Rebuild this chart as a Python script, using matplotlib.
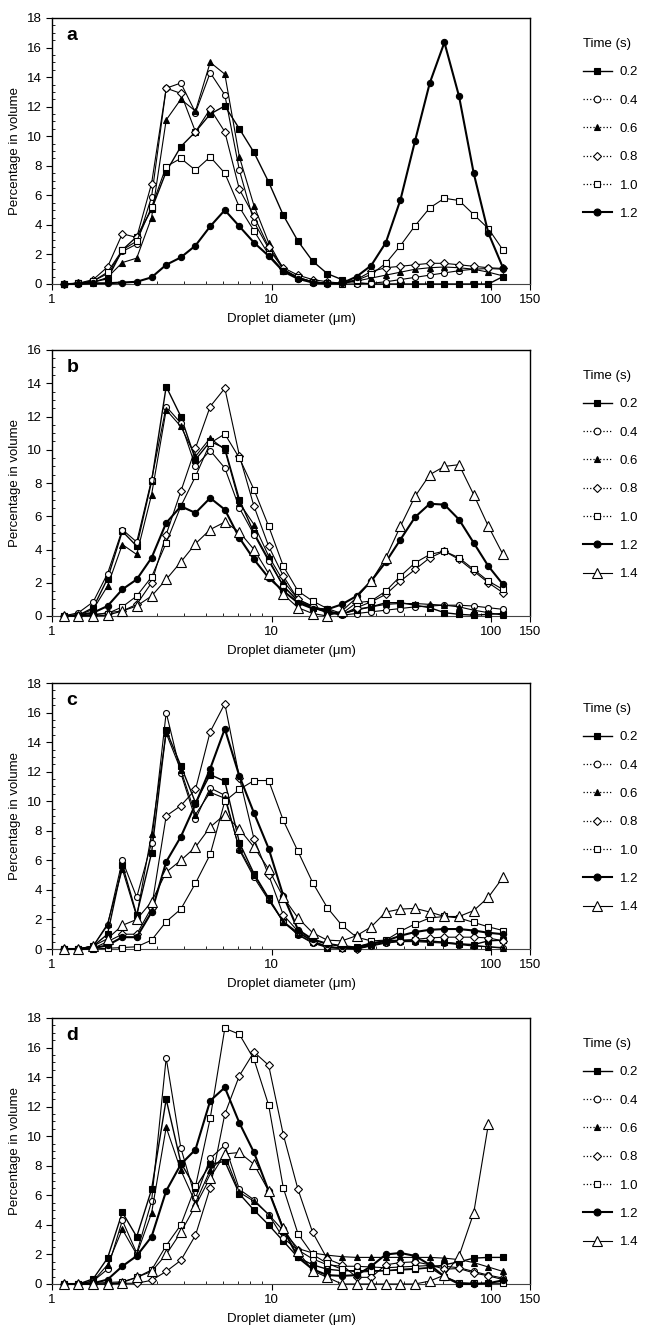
"""
Droplet size distributions at several times, four panels (a-d).
"""

import numpy as np
import matplotlib
matplotlib.use("Agg")
import matplotlib.pyplot as plt
from matplotlib.lines import Line2D
from matplotlib.ticker import FixedLocator, NullFormatter, MultipleLocator

plt.rcParams.update({"font.size": 9, "font.family": ["Liberation Sans", "DejaVu Sans"]})

# droplet size classes (um)
diameters = [1.13, 1.32, 1.54, 1.79, 2.09, 2.43, 2.84, 3.31, 3.86, 4.50,
             5.25, 6.12, 7.13, 8.31, 9.69, 11.30, 13.18, 15.36, 17.91, 20.88,
             24.35, 28.38, 33.09, 38.58, 44.98, 52.45, 61.15, 71.30, 83.13, 96.93,
             113.0]

times = ["0.2", "0.4", "0.6", "0.8", "1.0", "1.2", "1.4"]

# panel a
a_02 = [0, 0.05, 0.15, 0.35, 2.3, 3.2, 5.05, 7.6, 9.3, 10.3, 11.5, 12.05, 10.5, 8.9, 6.9, 4.65,
        2.9, 1.55, 0.7, 0.3, 0.1, 0, 0, 0, 0, 0, 0, 0, 0, 0, 0.5]
a_04 = [0, 0.05, 0.2, 0.7, 2.2, 2.7, 5.9, 13.25, 13.6, 11.6, 14.3, 12.8, 7.7, 4.2, 2.4, 1.0,
        0.45, 0.15, 0.05, 0, 0, 0.05, 0.15, 0.3, 0.45, 0.6, 0.75, 0.9, 1.0, 1.05, 1.0]
a_06 = [0, 0.05, 0.1, 0.45, 1.45, 1.75, 4.5, 11.1, 12.5, 11.7, 15.0, 14.2, 8.6, 5.3, 2.8, 1.0,
        0.4, 0.15, 0.05, 0.05, 0.2, 0.4, 0.6, 0.8, 1.0, 1.1, 1.15, 1.1, 1.0, 0.8, 0.55]
a_08 = [0, 0.05, 0.3, 1.15, 3.4, 3.15, 6.8, 13.25, 12.9, 10.3, 11.85, 10.3, 6.4, 4.6, 2.5, 1.1,
        0.6, 0.3, 0.15, 0.05, 0.3, 0.85, 1.1, 1.2, 1.3, 1.4, 1.4, 1.3, 1.2, 1.1, 1.05]
a_10 = [0, 0.05, 0.2, 0.8, 2.3, 2.9, 5.2, 7.95, 8.5, 7.7, 8.6, 7.5, 5.2, 3.6, 2.0, 0.9,
        0.45, 0.15, 0.05, 0, 0.25, 0.65, 1.4, 2.6, 3.95, 5.15, 5.8, 5.65, 4.7, 3.75, 2.3]
a_12 = [0, 0, 0.05, 0.05, 0.1, 0.15, 0.45, 1.3, 1.8, 2.6, 3.9, 5.0, 3.9, 2.8, 1.9, 0.85,
        0.35, 0.1, 0.02, 0.05, 0.5, 1.25, 2.8, 5.7, 9.7, 13.6, 16.35, 12.7, 7.5, 3.45, 1.1]

# panel b
b_02 = [0, 0.05, 0.5, 2.25, 5.1, 4.2, 8.1, 13.8, 12.0, 9.4, 10.5, 10.1, 7.0, 5.0, 3.4, 1.8,
        0.9, 0.5, 0.25, 0.1, 0.4, 0.55, 0.8, 0.8, 0.65, 0.5, 0.2, 0.1, 0.05, 0.1, 0.15]
b_04 = [0, 0.2, 0.85, 2.55, 5.2, 4.45, 8.2, 12.6, 11.6, 9.0, 9.95, 8.9, 6.5, 4.9, 3.3, 1.8,
        0.9, 0.5, 0.2, 0.05, 0.15, 0.25, 0.35, 0.45, 0.55, 0.6, 0.65, 0.65, 0.6, 0.5, 0.4]
b_06 = [0, 0.05, 0.4, 1.8, 4.3, 3.7, 7.3, 12.4, 11.4, 9.6, 10.7, 10.0, 6.8, 5.5, 3.6, 2.1,
        1.0, 0.55, 0.3, 0.15, 0.35, 0.55, 0.7, 0.75, 0.75, 0.7, 0.65, 0.55, 0.35, 0.2, 0.05]
b_08 = [0, 0, 0.05, 0.2, 0.3, 0.7, 2.0, 4.9, 7.5, 10.1, 12.6, 13.7, 9.65, 6.6, 4.2, 2.4,
        1.0, 0.6, 0.3, 0.1, 0.5, 0.85, 1.3, 2.1, 2.8, 3.5, 3.9, 3.4, 2.7, 2.0, 1.4]
b_10 = [0, 0, 0.1, 0.15, 0.55, 1.2, 2.35, 4.4, 6.6, 8.4, 10.4, 10.95, 9.5, 7.6, 5.4, 3.0,
        1.5, 0.9, 0.45, 0.15, 0.8, 0.9, 1.5, 2.4, 3.2, 3.7, 3.9, 3.5, 2.8, 2.1, 1.6]
b_12 = [0, 0.05, 0.2, 0.6, 1.6, 2.2, 3.5, 5.6, 6.6, 6.2, 7.1, 6.4, 4.7, 3.4, 2.3, 1.5,
        0.8, 0.45, 0.4, 0.7, 1.2, 2.1, 3.25, 4.6, 5.95, 6.75, 6.7, 5.8, 4.4, 3.0, 1.9]
b_14 = [0, 0, 0, 0.05, 0.3, 0.6, 1.2, 2.2, 3.25, 4.35, 5.2, 5.65, 5.05, 4.0, 2.55, 1.3,
        0.5, 0.15, 0, 0.3, 1.1, 2.1, 3.5, 5.4, 7.2, 8.5, 9.0, 9.1, 7.3, 5.4, 3.7]

# panel c
c_02 = [0, 0, 0.2, 1.0, 5.7, 2.3, 6.5, 14.8, 12.4, 9.9, 11.8, 11.35, 7.2, 5.1, 3.45, 1.85,
        1.1, 0.55, 0.1, 0.05, 0.15, 0.4, 0.55, 0.6, 0.6, 0.55, 0.45, 0.35, 0.3, 0.55, 0.6]
c_04 = [0, 0, 0.2, 1.6, 6.0, 3.5, 7.2, 16.0, 11.9, 8.8, 10.9, 10.4, 6.7, 4.85, 3.3, 1.85,
        0.95, 0.4, 0.1, 0.05, 0, 0.2, 0.4, 0.5, 0.5, 0.45, 0.4, 0.3, 0.2, 0.15, 0.05]
c_06 = [0, 0, 0.2, 1.7, 5.4, 2.2, 7.8, 14.6, 12.1, 9.1, 10.6, 10.2, 6.8, 5.0, 3.4, 1.8,
        1.0, 0.45, 0.15, 0.05, 0.05, 0.25, 0.45, 0.55, 0.55, 0.5, 0.45, 0.35, 0.25, 0.15, 0.1]
c_08 = [0, 0, 0.05, 0.5, 1.0, 1.0, 2.8, 9.0, 9.7, 10.8, 14.7, 16.6, 11.6, 7.45, 5.0, 2.3,
        1.2, 0.5, 0.2, 0.05, 0, 0.25, 0.45, 0.55, 0.65, 0.75, 0.8, 0.8, 0.8, 0.75, 0.55]
c_10 = [0, 0, 0, 0.05, 0.1, 0.15, 0.6, 1.85, 2.7, 4.45, 6.4, 10.0, 10.8, 11.4, 11.4, 8.7,
        6.6, 4.5, 2.8, 1.6, 0.8, 0.55, 0.6, 1.2, 1.7, 2.1, 2.2, 2.1, 1.8, 1.5, 1.25]
c_12 = [0, 0, 0.05, 0.25, 0.8, 0.8, 2.5, 5.9, 7.6, 9.8, 12.2, 14.9, 11.7, 9.2, 6.8, 3.6,
        1.3, 0.65, 0.35, 0.2, 0.1, 0.35, 0.55, 0.9, 1.15, 1.3, 1.35, 1.35, 1.25, 1.1, 1.0]
c_14 = [0, 0, 0.2, 0.7, 1.6, 2.0, 3.2, 5.2, 6.0, 6.9, 8.25, 9.1, 8.1, 6.9, 5.4, 3.5,
        2.1, 1.1, 0.6, 0.55, 0.9, 1.5, 2.5, 2.7, 2.75, 2.5, 2.2, 2.2, 2.6, 3.5, 4.85]

# panel d
d_02 = [0, 0, 0.35, 1.75, 4.85, 3.2, 6.4, 12.5, 8.2, 6.5, 8.1, 8.3, 6.1, 5.0, 4.0, 2.9,
        1.8, 1.3, 1.0, 0.9, 0.9, 0.9, 0.9, 0.95, 1.0, 1.1, 1.3, 1.5, 1.75, 1.8, 1.8]
d_04 = [0, 0, 0.2, 1.0, 4.3, 2.1, 5.6, 15.3, 9.2, 5.8, 8.5, 9.4, 6.4, 5.7, 4.7, 3.1,
        2.3, 1.7, 1.3, 1.2, 1.2, 1.15, 1.1, 1.15, 1.2, 1.25, 1.2, 1.1, 0.85, 0.6, 0.4]
d_06 = [0, 0, 0.2, 1.3, 3.7, 2.0, 4.8, 10.6, 7.7, 5.5, 7.7, 8.7, 6.2, 5.6, 4.7, 3.6,
        2.4, 2.1, 1.95, 1.85, 1.8, 1.8, 1.8, 1.8, 1.8, 1.8, 1.75, 1.65, 1.45, 1.15, 0.85]
d_08 = [0, 0, 0, 0, 0.05, 0.05, 0.25, 0.85, 1.6, 3.3, 6.5, 11.5, 14.1, 15.7, 14.8, 10.1,
        6.4, 3.5, 1.7, 1.3, 0.45, 0.45, 1.3, 1.45, 1.5, 1.3, 1.0, 1.05, 0.75, 0.55, 0.3]
d_10 = [0, 0, 0.05, 0.1, 0.15, 0.45, 0.95, 2.6, 4.0, 6.6, 11.2, 17.3, 16.9, 15.2, 12.1, 6.5,
        3.4, 2.0, 1.4, 1.0, 0.8, 0.85, 0.9, 1.0, 1.05, 1.1, 0.5, 0.1, 0.05, 0.05, 0.05]
d_12 = [0, 0, 0.05, 0.3, 1.2, 1.9, 3.2, 6.3, 8.1, 9.1, 12.4, 13.3, 10.9, 8.9, 6.3, 3.7,
        1.8, 1.0, 0.6, 0.55, 0.6, 1.2, 2.0, 2.1, 1.9, 1.3, 0.5, 0, 0, 0.05, 0.25]
d_14 = [0, 0, 0, 0, 0.1, 0.45, 0.85, 2.0, 3.5, 5.3, 7.2, 8.8, 8.9, 8.1, 6.3, 3.8,
        2.2, 0.9, 0.45, 0, 0, 0, 0, 0, 0, 0.2, 0.6, 1.9, 4.8, 10.8, np.nan]

panels = [
    ("a", [a_02, a_04, a_06, a_08, a_10, a_12], 18),
    ("b", [b_02, b_04, b_06, b_08, b_10, b_12, b_14], 16),
    ("c", [c_02, c_04, c_06, c_08, c_10, c_12, c_14], 18),
    ("d", [d_02, d_04, d_06, d_08, d_10, d_12, d_14], 18),
]

# marker, face colour, marker size, line width, legend line style
styles = [
    ("s", "black", 4.0, 1.0, "-"),
    ("o", "white", 4.3, 0.8, ":"),
    ("^", "black", 4.0, 0.8, ":"),
    ("D", "white", 3.6, 0.8, ":"),
    ("s", "white", 4.3, 0.8, ":"),
    ("o", "black", 4.5, 1.5, "-"),
    ("^", "white", 7.0, 0.8, "-"),
]

fig = plt.figure(figsize=(6.6, 13.33), dpi=100)
W, H = 660.0, 1333.0
ax_left, ax_right = 52, 530
tops = [18, 350, 683, 1018]
ax_h = 266

for (letter, series, ymax), top in zip(panels, tops):
    ax = fig.add_axes([ax_left / W, 1 - (top + ax_h) / H, (ax_right - ax_left) / W, ax_h / H])
    handles = []
    for values, (mk, fc, ms, lw, ls), label in zip(series, styles, times):
        ax.plot(diameters, values, color="black", lw=lw, marker=mk, ms=ms,
                mfc=fc, mec="black", mew=0.8, clip_on=False, zorder=3)
        handles.append(Line2D([], [], color="black", lw=lw if ls == "-" else 0.9,
                              ls=ls, marker=mk, ms=ms + 0.5, mfc=fc, mec="black", mew=0.8))
    ax.set_xscale("log")
    ax.set_xlim(1, 150)
    ax.set_ylim(0, ymax)
    ax.xaxis.set_major_locator(FixedLocator([1, 10, 100, 150]))
    ax.set_xticklabels(["1", "10", "100", "150"])
    ax.xaxis.set_minor_locator(FixedLocator([2, 3, 4, 5, 6, 7, 8, 9,
                                             20, 30, 40, 50, 60, 70, 80, 90]))
    ax.xaxis.set_minor_formatter(NullFormatter())
    ax.yaxis.set_major_locator(MultipleLocator(2))
    ax.yaxis.set_minor_locator(MultipleLocator(0.5))
    ax.tick_params(which="major", direction="out", length=4, width=0.8, labelsize=9.5)
    ax.tick_params(which="minor", direction="in", length=2.5, width=0.6)
    for side in ["left", "top", "right"]:
        ax.spines[side].set_linewidth(1.0)
    ax.spines["bottom"].set_linestyle((0, (1, 1)))
    ax.spines["bottom"].set_color("#444444")
    ax.set_ylabel("Percentage in volume", fontsize=9.5, labelpad=4)
    ax.set_xlabel("Droplet diameter (\u03bcm)", fontsize=9.5, labelpad=5)
    ax.text(0.03, 0.965, letter, transform=ax.transAxes, fontsize=14,
            fontweight="bold", va="top", ha="left")
    ax.legend(handles, times[:len(series)], title="Time (s)", loc="upper left",
              bbox_to_anchor=(1.11, 0.925), frameon=False, fontsize=9.5,
              title_fontsize=9.5, alignment="left", handlelength=2.2,
              handletextpad=0.6, labelspacing=1.22, borderaxespad=0, borderpad=0)

fig.savefig("out.png", dpi=100)
